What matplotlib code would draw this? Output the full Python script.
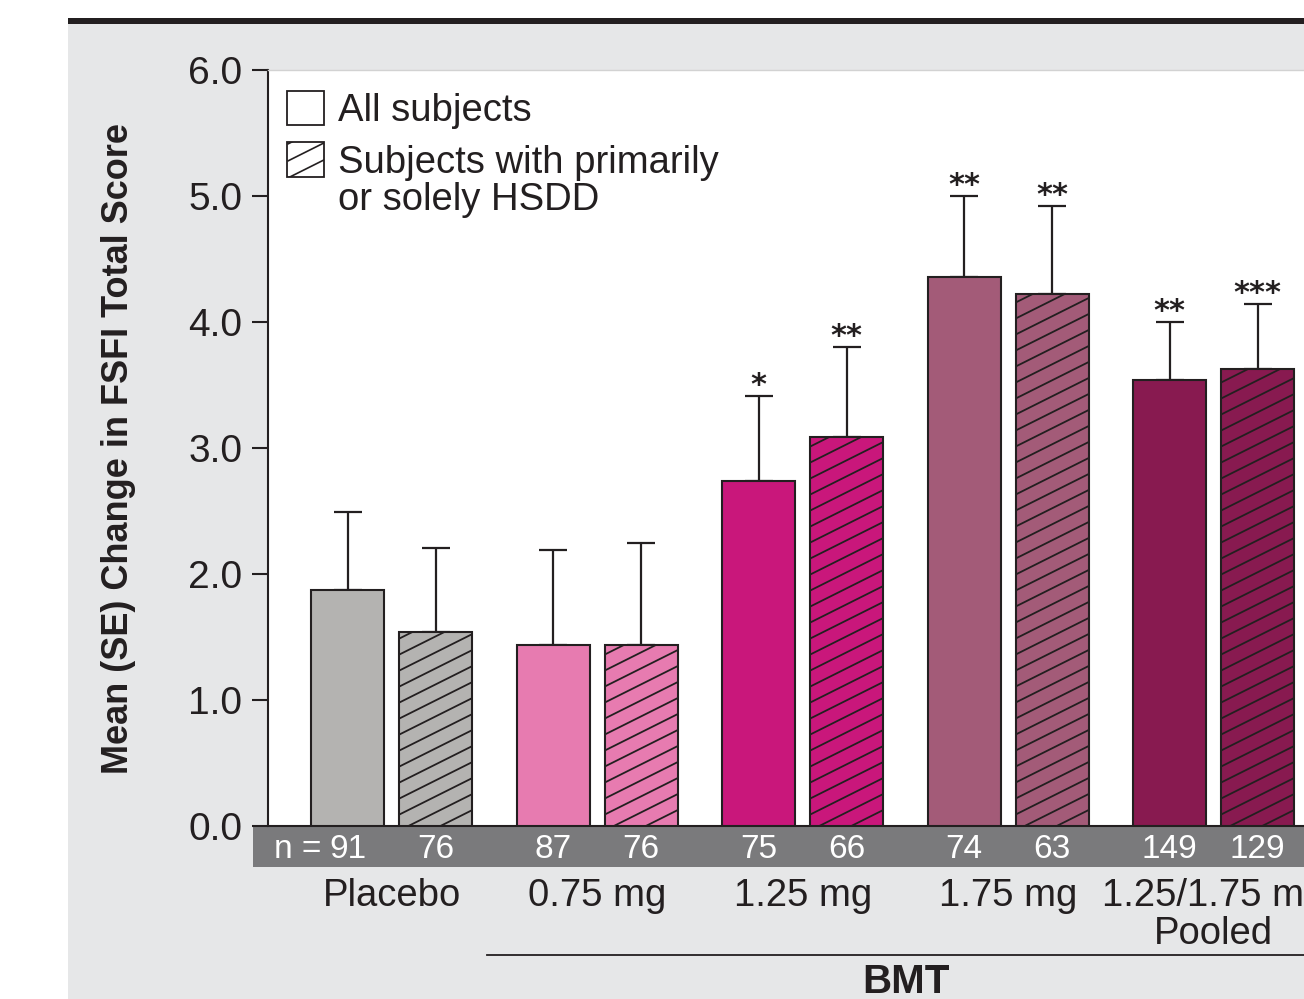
import numpy as np
import matplotlib
matplotlib.use('Agg')
import matplotlib.pyplot as plt
import matplotlib.transforms as mtransforms
from matplotlib.patches import Patch, Rectangle
from matplotlib.collections import LineCollection

plt.rcParams['font.family'] = ['Liberation Sans', 'DejaVu Sans']

# данные
groups = ['Placebo', '0.75 mg', '1.25 mg', '1.75 mg', '1.25/1.75 mg\nPooled']
colors = ['#b4b3b1', '#e77bb0', '#c9177b', '#a35b78', '#881a50']
mean_all = [1.87, 1.44, 2.74, 4.36, 3.54]
se_all = [0.62, 0.75, 0.67, 0.64, 0.46]
mean_hsdd = [1.54, 1.44, 3.09, 4.22, 3.63]
se_hsdd = [0.67, 0.81, 0.71, 0.70, 0.51]
n_all = [91, 87, 75, 74, 149]
n_hsdd = [76, 76, 66, 63, 129]
stars_all = ['', '', '*', '**', '**']
stars_hsdd = ['', '', '**', '**', '***']
yticks = [0, 1, 2, 3, 4, 5, 6]

ink = '#231f20'


def slanted_hatch(x0, y0, x1, y1, step=16, slope=0.5):
    # линии штриховки в пикселях для прямоугольника (x0, y0)-(x1, y1)
    segs = []
    c = y0 - slope * (x1 - x0)
    while c < y1:
        segs.append([(x0, c), (x1, c + slope * (x1 - x0))])
        c += step
    return segs


fig = plt.figure(figsize=(13.04, 9.99), dpi=100)
fig.patch.set_facecolor('white')
fig.patches.append(Rectangle((68 / 1304, 0), 1, 975 / 999, transform=fig.transFigure,
                             facecolor='#e6e7e8', edgecolor='none', zorder=-10))
fig.patches.append(Rectangle((68 / 1304, 975 / 999), 1, 6 / 999, transform=fig.transFigure,
                             facecolor=ink, edgecolor='none', zorder=-9))

ax = fig.add_axes([268 / 1304, 173 / 999, 1036 / 1304, 756 / 999])
ax.set_facecolor('white')
ax.set_xlim(-0.603, 4.44)
ax.set_ylim(0, 6)

x = np.arange(len(groups))
w = 0.356
off = 0.214

bars_all = ax.bar(x - off, mean_all, w, color=colors, edgecolor=ink, linewidth=1.5, zorder=3)
bars_hsdd = ax.bar(x + off, mean_hsdd, w, color=colors, edgecolor=ink, linewidth=1.5, zorder=3)

ax.errorbar(x - off, mean_all, yerr=[np.zeros(len(x)), se_all], fmt='none',
            ecolor=ink, elinewidth=1.6, capsize=10, capthick=1.6, zorder=2)
ax.errorbar(x + off, mean_hsdd, yerr=[np.zeros(len(x)), se_hsdd], fmt='none',
            ecolor=ink, elinewidth=1.6, capsize=10, capthick=1.6, zorder=2)

# штриховка под углом, обрезанная по столбцу
inv = ax.transData.inverted()
for b in bars_hsdd:
    (x0, y0) = ax.transData.transform((b.get_x(), b.get_y()))
    (x1, y1) = ax.transData.transform((b.get_x() + b.get_width(), b.get_y() + b.get_height()))
    segs = [inv.transform(s) for s in slanted_hatch(x0, y0, x1, y1)]
    lc = LineCollection(segs, colors=ink, linewidths=1.3, zorder=4)
    ax.add_collection(lc)
    lc.set_clip_path(b)

for xi, m, s, st in zip(x - off, mean_all, se_all, stars_all):
    if st:
        ax.annotate(st, (xi, m + s), xytext=(0, 1.5), textcoords='offset points',
                    ha='center', va='baseline', fontsize=22, fontweight='bold',
                    color=ink, family='DejaVu Sans')
for xi, m, s, st in zip(x + off, mean_hsdd, se_hsdd, stars_hsdd):
    if st:
        ax.annotate(st, (xi, m + s), xytext=(0, 1.5), textcoords='offset points',
                    ha='center', va='baseline', fontsize=22, fontweight='bold',
                    color=ink, family='DejaVu Sans')

ax.spines['right'].set_visible(False)
ax.spines['top'].set_color('#d2d2d2')
ax.spines['top'].set_linewidth(1)
ax.spines['left'].set_color(ink)
ax.spines['left'].set_linewidth(1.5)
ax.spines['bottom'].set_color(ink)
ax.spines['bottom'].set_linewidth(1.5)

ax.set_yticks(yticks)
ax.set_yticklabels(['%.1f' % t for t in yticks])
ax.set_xticks([])
ax.tick_params(axis='y', direction='out', length=11.5, width=1.5, pad=7,
               labelsize=28, color=ink, labelcolor=ink)

ax.set_ylabel('Mean (SE) Change in FSFI Total Score', fontsize=26, fontweight='bold', color=ink)
ax.yaxis.set_label_coords(-0.127, 0.5)

# полоса с n
bt = mtransforms.blended_transform_factory(ax.transData, ax.transAxes)
ax.add_patch(Rectangle((-0.0145, -0.0542), 1.0145, 0.0542, transform=ax.transAxes,
                       facecolor='#7a7a7c', edgecolor='none', clip_on=False, zorder=1))
for xi, n in zip(x - off, n_all):
    ax.text(xi, -0.031, str(n), transform=bt, ha='center', va='center',
            fontsize=24, color='white')
for xi, n in zip(x + off, n_hsdd):
    ax.text(xi, -0.031, str(n), transform=bt, ha='center', va='center',
            fontsize=24, color='white')
ax.annotate('n =', (x[0] - off, -0.031), xycoords=bt, xytext=(-19, 0),
            textcoords='offset points', ha='right', va='center', fontsize=24, color='white')

for xi, g in zip(x, groups):
    ax.text(xi, -0.069, g, transform=bt, ha='center', va='top', fontsize=27.5,
            color=ink, linespacing=1.05)

ax.plot([0.464, 4.6], [-0.1706, -0.1706], transform=bt, color=ink, lw=1.3, clip_on=False)
ax.text(2.5, -0.207, 'BMT', transform=bt, ha='center', va='center', fontsize=29,
        fontweight='bold', color=ink)

handles = [Patch(facecolor='white', edgecolor=ink, linewidth=1.3),
           Patch(facecolor='white', edgecolor=ink, linewidth=1.3)]
leg = ax.legend(handles, ['All subjects', 'Subjects with primarily'],
                loc='upper left', bbox_to_anchor=(0.004, 0.993), frameon=False, fontsize=27.5,
                handlelength=0.97, handleheight=1.0, handletextpad=0.36,
                labelspacing=0.36, borderaxespad=0.0, borderpad=0.4)
for t in leg.get_texts():
    t.set_color(ink)
ax.annotate('or solely HSDD', xy=(0, 0), xycoords=leg.get_texts()[1], xytext=(0, -27),
            textcoords='offset points', ha='left', va='bottom', fontsize=27.5, color=ink,
            zorder=6)

# штриховка значка легенды
fig.canvas.draw()
hb = leg.legend_handles[1].get_window_extent()
lc = LineCollection(slanted_hatch(hb.x0, hb.y0, hb.x1, hb.y1, step=17),
                    colors=ink, linewidths=1.2, transform=mtransforms.IdentityTransform(),
                    zorder=7)
lc.set_clip_box(mtransforms.Bbox([[hb.x0, hb.y0], [hb.x1, hb.y1]]))
fig.add_artist(lc)

fig.savefig('out.png', dpi=100)
